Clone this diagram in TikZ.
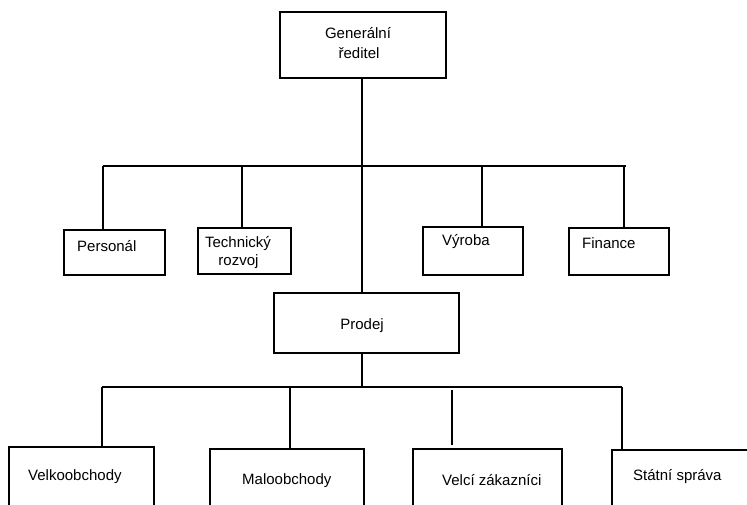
\documentclass[tikz,border=0pt]{standalone}
\usepackage{fontspec}
\setmainfont{Liberation Sans}
\begin{document}
\begin{tikzpicture}[x=1pt,y=-1pt,
  box/.style={draw=black,line width=1.3pt,rectangle,inner sep=0pt,fill=white},
  lbl/.style={inner sep=0pt,font=\fontsize{15}{18}\selectfont,text=black},
  conn/.style={draw=black,line width=1.3pt}]
\useasboundingbox (0,0) rectangle (747,504);
\fill[white] (0,0) rectangle (747,504);
\clip (0,0) rectangle (747,504);
% boxes
\node[box,minimum width=166pt,minimum height=66pt] (gen) at (363,45) {};
\node[box,minimum width=101pt,minimum height=45pt] (pers) at (114.5,252.5) {};
\node[box,minimum width=93pt,minimum height=46pt] (tech) at (244.5,251) {};
\node[box,minimum width=100pt,minimum height=48pt] (vyr) at (473,251) {};
\node[box,minimum width=100pt,minimum height=47pt] (fin) at (619,251.5) {};
\node[box,minimum width=185pt,minimum height=60pt] (prod) at (366.5,323) {};
\node[box,minimum width=145pt,minimum height=80pt] (velko) at (81.5,487) {};
\node[box,minimum width=154pt,minimum height=80pt] (malo) at (287,489) {};
\node[box,minimum width=149pt,minimum height=80pt] (velci) at (487.5,489) {};
\node[box,minimum width=160pt,minimum height=80pt] (stat) at (692,490) {};
% texts
\node[lbl] (genA) at (358,33) {Generální};
\node[lbl] (genB) at (359,53) {ředitel};
\node[lbl,anchor=west] (persT) at (77,246) {Personál};
\node[lbl] (techA) at (238,244) {Technický};
\node[lbl] (techB) at (238.5,262) {rozvoj};
\node[lbl,anchor=west] (vyrT) at (442,242) {Výroba};
\node[lbl,anchor=west] (finT) at (582,243) {Finance};
\node[lbl] (prodT) at (362,326) {Prodej};
\node[lbl,anchor=west] (velkoT) at (28,477) {Velkoobchody};
\node[lbl,anchor=west] (maloT) at (242,481) {Maloobchody};
\node[lbl,anchor=west] (velciT) at (442,480) {Velcí zákazníci};
\node[lbl,anchor=west] (statT) at (633,477) {Státní správa};
% upper bus
\coordinate (u1) at (103,166);
\coordinate (u2) at (242,166);
\coordinate (u3) at (482,166);
\coordinate (u4) at (624,166);
\coordinate (uR) at (626,166);
\coordinate (gs) at (362,78);
\draw[conn] (u1) -- (uR);
\draw[conn] (gs) -- (gs |- prod.north);
\draw[conn] (u1) -- (u1 |- pers.north);
\draw[conn] (u2) -- (u2 |- tech.north);
\draw[conn] (u3) -- (u3 |- vyr.north);
\draw[conn] (u4) -- (u4 |- fin.north);
% lower bus
\coordinate (l1) at (102,387);
\coordinate (l2) at (290,387);
\coordinate (lm) at (362,353);
\coordinate (l3) at (452,390);
\coordinate (l3e) at (452,445);
\coordinate (l4) at (622,387);
\draw[conn] (l1) -- (l4);
\draw[conn] (lm) -- (lm |- l1);
\draw[conn] (l1) -- (l1 |- velko.north);
\draw[conn] (l2) -- (l2 |- malo.north);
\draw[conn] (l3) -- (l3e);
\draw[conn] (l4) -- (l4 |- stat.north);
\end{tikzpicture}
\end{document}
